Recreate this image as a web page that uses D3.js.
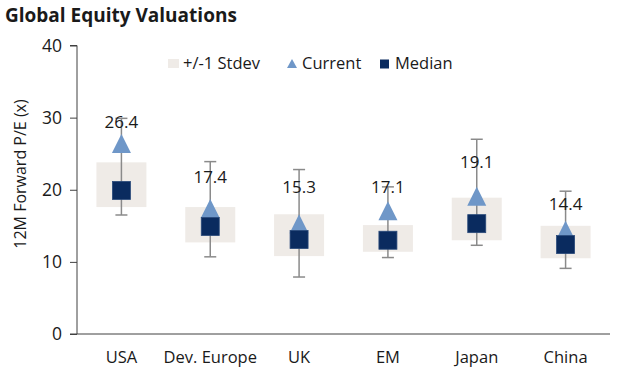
<!DOCTYPE html>
<html><head><meta charset="utf-8">
<script src="https://cdn.jsdelivr.net/npm/d3@7"></script>
<style>body{margin:0;background:#fff}svg{display:block}text{font-family:"Open Sans",sans-serif}</style>
</head><body><svg id="c" width="621" height="369"></svg>
<script>
const categories = ["USA","Dev. Europe","UK","EM","Japan","China"];
const current    = [26.4, 17.4, 15.3, 17.1, 19.1, 14.4];
const median     = [19.9, 14.9, 13.1, 13.0, 15.3, 12.4];
const stdevLow   = [17.6, 12.7, 10.8, 11.4, 13.0, 10.5];
const stdevHigh  = [23.8, 17.6, 16.6, 15.1, 18.9, 15.0];
const rangeLow   = [16.5, 10.7, 7.9, 10.6, 12.3, 9.1];
const rangeHigh  = [29.9, 23.9, 22.8, 20.4, 27.0, 19.8];
const yTicks     = [0, 10, 20, 30, 40];
const legendLabels = ["+/-1 Stdev","Current","Median"];

// layout (not data)
const labelLift = [22, 31, 37, 24, 34, 26];

const FONT = "'Open Sans',sans-serif";
const svg = d3.select("#c");
const x = d3.scaleBand().domain(categories).range([77, 610]);
const y = d3.scaleLinear().domain([0, 40]).range([334, 45.5]);
const cx = c => x(c) + x.bandwidth()/2;

svg.append("text").attr("x",5).attr("y",22).attr("font-size",19).attr("font-weight","bold").attr("fill","#1a1a1a").text("Global Equity Valuations");

const ya = svg.append("g").attr("transform","translate(77,0)")
  .call(d3.axisLeft(y).tickValues(yTicks).tickSize(7).tickPadding(8));
ya.select(".domain").attr("stroke","#404040").attr("d","M-7,45.5H0V334");
ya.selectAll(".tick line").attr("stroke","#404040");
ya.selectAll(".tick text").attr("font-size",17.5).attr("fill","#1a1a1a").attr("font-family",FONT);

const xa = svg.append("g").attr("transform","translate(0,334)")
  .call(d3.axisBottom(x).tickSize(0).tickPadding(17));
xa.select(".domain").attr("stroke","#404040").attr("d","M70,0H610");
xa.selectAll(".tick text").attr("font-size",16.5).attr("fill","#1a1a1a").attr("font-family",FONT);

svg.append("text").attr("transform","translate(26,174) rotate(-90)").attr("text-anchor","middle")
  .attr("font-size",16).attr("fill","#1a1a1a").text("12M Forward P/E (x)");

const g = svg.append("g");
const boxW = 50, sq = 18, tri = 19;
categories.forEach((c,i)=>{
  const X = cx(c);
  g.append("rect").attr("x",X-boxW/2).attr("y",y(stdevHigh[i])).attr("width",boxW)
    .attr("height",y(stdevLow[i])-y(stdevHigh[i])).attr("fill","#efebe7");
  g.append("line").attr("x1",X).attr("x2",X).attr("y1",y(rangeHigh[i])).attr("y2",y(rangeLow[i])).attr("stroke","#8a8a8a").attr("stroke-width",1.5);
  [rangeHigh[i], rangeLow[i]].forEach(v=>g.append("line").attr("x1",X-6).attr("x2",X+6).attr("y1",y(v)).attr("y2",y(v)).attr("stroke","#8a8a8a").attr("stroke-width",1.5));
  const ty = y(current[i]);
  g.append("path").attr("d",`M${X},${ty-tri/2}L${X+tri/2},${ty+tri/2}L${X-tri/2},${ty+tri/2}Z`).attr("fill","#6f97c8");
  g.append("rect").attr("x",X-sq/2).attr("y",y(median[i])-sq/2).attr("width",sq).attr("height",sq)
    .attr("fill","#0a2b5f").attr("stroke","#2a4a7a").attr("stroke-width",0.8);
  g.append("text").attr("x",X).attr("y",ty-labelLift[i]).attr("dy","0.35em").attr("text-anchor","middle")
    .attr("font-size",17).attr("fill","#1a1a1a").text(current[i].toFixed(1));
});

// legend
const lg = svg.append("g");
lg.append("rect").attr("x",168).attr("y",59).attr("width",11).attr("height",9).attr("fill","#efebe7");
lg.append("text").attr("x",183).attr("y",69).attr("font-size",16.5).attr("fill","#1a1a1a").text(legendLabels[0]);
lg.append("path").attr("d","M292,59L297,68L287,68Z").attr("fill","#6f97c8");
lg.append("text").attr("x",302).attr("y",69).attr("font-size",16.5).attr("fill","#1a1a1a").text(legendLabels[1]);
lg.append("rect").attr("x",380).attr("y",59.5).attr("width",9).attr("height",9).attr("fill","#0a2b5f");
lg.append("text").attr("x",395).attr("y",69).attr("font-size",16.5).attr("fill","#1a1a1a").text(legendLabels[2]);
</script></body></html>
